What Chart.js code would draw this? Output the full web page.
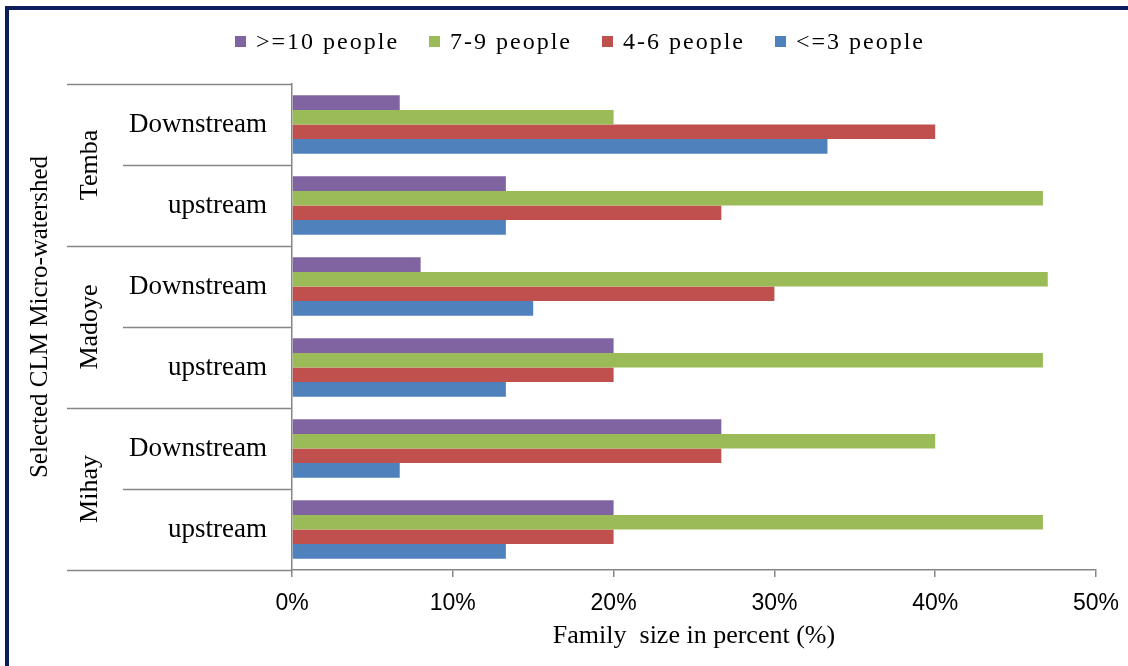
<!DOCTYPE html>
<html>
<head>
<meta charset="utf-8">
<script src="https://cdn.jsdelivr.net/npm/chart.js@4"></script>
<style>
  html, body { margin: 0; padding: 0; background: #fff; }
  .wrap { position: relative; width: 1128px; height: 666px; }
  canvas { display: block; }
  #legend {
    position: absolute; top: 27px; left: 64px; right: 32px; height: 28px;
    display: flex; justify-content: center; align-items: center; gap: 30px;
    font: 24px "Liberation Serif", "Times New Roman", serif; letter-spacing: 2px;
    color: #000; line-height: 28px; white-space: nowrap;
  }
  #legend .item { display: flex; align-items: center; }
  #legend .swatch { width: 11px; height: 11px; margin-right: 10px; }
</style>
</head>
<body>
<div class="wrap">
  <canvas id="familyChart" width="1128" height="666"></canvas>
  <div id="legend"></div>
</div>
<script>
// Family size by micro-watershed position
const watersheds = ['Temba', 'Madoye', 'Mihay'];
const positions = ['Downstream', 'upstream', 'Downstream', 'upstream', 'Downstream', 'upstream'];
const tenOrMore = [6.7, 13.3, 8, 20, 26.7, 20];
const sevenToNine = [20, 46.7, 47, 46.7, 40, 46.7];
const fourToSix = [40, 26.7, 30, 20, 26.7, 20];
const threeOrLess = [33.3, 13.3, 15, 13.3, 6.7, 13.3];
const xTicks = [0, 10, 20, 30, 40, 50];

const serif = '"Liberation Serif", "Times New Roman", serif';
const axisGrey = '#868686';

// separators, group names, y title and the outer frame
const sidePanel = {
    id: 'sidePanel',
    afterDraw(chart) {
        const ctx = chart.ctx;
        const y = chart.scales.y;
        const area = chart.chartArea;
        const band = (y.bottom - y.top) / positions.length;
        ctx.save();
        ctx.strokeStyle = axisGrey;
        ctx.lineWidth = 1.5;
        for (let i = 0; i <= positions.length; i++) {
            const py = Math.round(y.top + i * band) + 0.5;
            const startX = i % 2 === 0 ? 67 : 123;
            ctx.beginPath();
            ctx.moveTo(startX, py);
            ctx.lineTo(area.left, py);
            ctx.stroke();
        }
        ctx.fillStyle = '#000';
        ctx.font = '26px ' + serif;
        ctx.textAlign = 'center';
        ctx.textBaseline = 'middle';
        watersheds.forEach((name, g) => {
            const cy = y.top + (g * 2 + 1) * band;
            ctx.save();
            ctx.translate(90, cy);
            ctx.rotate(-Math.PI / 2);
            ctx.fillText(name, 0, 0);
            ctx.restore();
        });
        ctx.font = '25px ' + serif;
        ctx.save();
        ctx.translate(40, 317);
        ctx.rotate(-Math.PI / 2);
        ctx.fillText('Selected CLM Micro-watershed', 0, 0);
        ctx.restore();
        ctx.strokeStyle = '#0c1f5c';
        ctx.lineWidth = 4;
        ctx.strokeRect(7, 8, 1200, 800);
        ctx.restore();
    }
};

const ctx = document.querySelector('#familyChart').getContext('2d');
const familyChart = new Chart(ctx, {
    type: 'bar',
    data: {
        labels: positions,
        datasets: [
            { label: '>=10 people', data: tenOrMore, backgroundColor: '#8064A2' },
            { label: '7-9 people', data: sevenToNine, backgroundColor: '#9BBB59' },
            { label: '4-6 people', data: fourToSix, backgroundColor: '#C0504D' },
            { label: '<=3 people', data: threeOrLess, backgroundColor: '#4F81BD' }
        ]
    },
    options: {
        indexAxis: 'y',
        responsive: false,
        animation: false,
        devicePixelRatio: 1,
        categoryPercentage: 0.72,
        barPercentage: 1.0,
        layout: { padding: { left: 64, right: 32, top: 84, bottom: 0 } },
        plugins: {
            legend: { display: false },
            tooltip: { enabled: false }
        },
        scales: {
            x: {
                min: 0,
                max: 50,
                afterBuildTicks: scale => { scale.ticks = xTicks.map(v => ({ value: v })); },
                afterFit: scale => {
                    scale.height = 96;
                    // the 50% label may hang into the right margin
                    scale.paddingRight = 0;
                },
                grid: {
                    display: true,
                    drawOnChartArea: false,
                    drawTicks: true,
                    tickLength: 7,
                    color: axisGrey,
                    lineWidth: 1.5
                },
                border: { display: true, color: axisGrey, width: 1.5 },
                ticks: {
                    color: '#000',
                    padding: 13,
                    font: { family: '"Liberation Sans", Arial, sans-serif', size: 23 },
                    callback: v => v + '%'
                },
                title: {
                    display: true,
                    text: 'Family  size in percent (%)',
                    color: '#000',
                    font: { family: serif, size: 26 },
                    padding: { top: 0, bottom: 14 }
                }
            },
            y: {
                afterFit: scale => { scale.width = 228; },
                grid: { display: false, drawTicks: false },
                border: { display: true, color: axisGrey, width: 1.5 },
                ticks: {
                    color: '#000',
                    padding: 25,
                    font: { family: serif, size: 27 }
                }
            }
        }
    },
    plugins: [sidePanel]
});

// legend row built from the chart's datasets
const legendBox = document.querySelector('#legend');
familyChart.data.datasets.forEach(ds => {
    const item = document.createElement('span');
    item.className = 'item';
    const swatch = document.createElement('span');
    swatch.className = 'swatch';
    swatch.style.background = ds.backgroundColor;
    const text = document.createElement('span');
    text.textContent = ds.label;
    item.appendChild(swatch);
    item.appendChild(text);
    legendBox.appendChild(item);
});
</script>
</body>
</html>
